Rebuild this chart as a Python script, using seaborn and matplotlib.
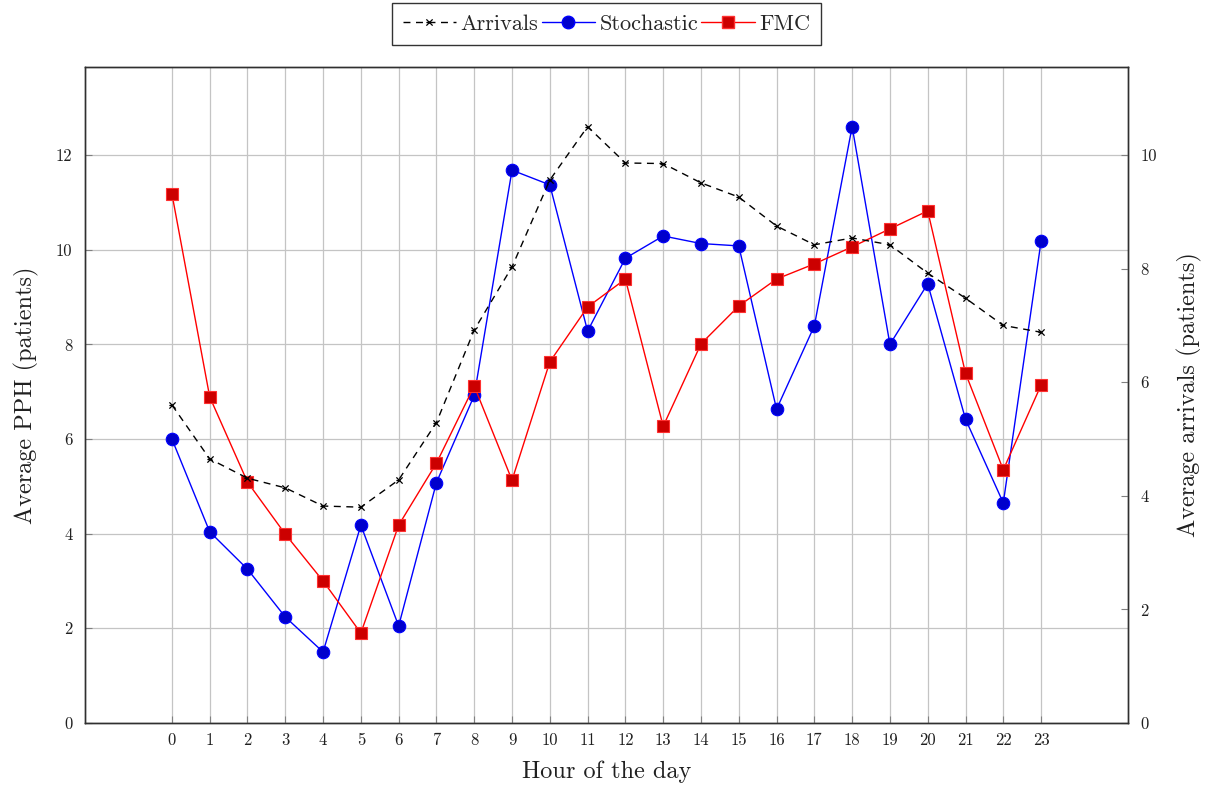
import numpy as np
import pandas as pd
import matplotlib
matplotlib.use("Agg")
import matplotlib.pyplot as plt
from matplotlib.path import Path
from matplotlib.lines import Line2D
import seaborn as sns

hours = list(range(24))
stochastic = [6.00, 4.04, 3.25, 2.24, 1.50, 4.18, 2.05, 5.08, 6.92, 11.68, 11.37, 8.28,
              9.82, 10.29, 10.13, 10.08, 6.63, 8.39, 12.60, 8.00, 9.28, 6.42, 4.65, 10.18]
fmc = [11.18, 6.89, 5.09, 3.99, 3.00, 1.90, 4.18, 5.49, 7.12, 5.13, 7.63, 8.79,
       9.38, 6.27, 8.01, 8.81, 9.38, 9.70, 10.06, 10.44, 10.82, 7.39, 5.35, 7.14]
arrivals = [5.60, 4.65, 4.31, 4.14, 3.82, 3.80, 4.28, 5.29, 6.92, 8.03, 9.56, 10.50,
            9.86, 9.85, 9.51, 9.26, 8.75, 8.42, 8.54, 8.42, 7.92, 7.48, 7.00, 6.88]
left_ticks = [0, 2, 4, 6, 8, 10, 12]
right_ticks = [0, 2, 4, 6, 8, 10]

sns.set_theme(style="white")
plt.rcParams['font.family'] = ['cmr10', 'DejaVu Serif']
plt.rcParams['axes.formatter.use_mathtext'] = True
plt.rcParams['mathtext.fontset'] = 'cm'

df = pd.DataFrame({"hour": hours, "stochastic": stochastic, "fmc": fmc, "arrivals": arrivals})

fig = plt.figure(figsize=(12.06, 7.85), dpi=100)
ax = fig.add_axes([85/1206, 1-723/785, (1128-85)/1206, (723-67)/785])
ax2 = ax.twinx()

star = Path([(-1, -1), (1, 1), (-1, 1), (1, -1), (-1, 0), (0, 0)],
            [Path.MOVETO, Path.LINETO, Path.MOVETO, Path.LINETO, Path.MOVETO, Path.LINETO])

sns.lineplot(data=df, x="hour", y="stochastic", ax=ax, color="#0000ff", lw=1,
             marker="o", markersize=9, markerfacecolor="#0000cc", markeredgecolor="#0000ff",
             markeredgewidth=0.8, zorder=3)
sns.lineplot(data=df, x="hour", y="fmc", ax=ax, color="#ff0000", lw=1,
             marker="s", markersize=8.5, markerfacecolor="#cc0000", markeredgecolor="#ff3030",
             markeredgewidth=0.8, zorder=3)
sns.lineplot(data=df, x="hour", y="arrivals", ax=ax2, color="black", lw=1,
             linestyle=(0, (5, 4)), marker=star, markersize=4.5, markeredgewidth=0.9,
             markeredgecolor="black", zorder=3)

ax.set_xlim(-2.3, 25.3)
ax.set_ylim(0, 13.86)
ax2.set_ylim(0, 11.55)
ax.set_xticks(hours)
ax.set_xticklabels([str(h) for h in hours])
ax.set_yticks(left_ticks)
ax.set_yticklabels([str(t) for t in left_ticks])
ax2.set_yticks(right_ticks)
ax2.set_yticklabels([str(t) for t in right_ticks])

ax.grid(True, color="#c4c4c4", lw=0.9)
ax.set_axisbelow(True)
ax2.grid(False)

for a in (ax, ax2):
    for s in a.spines.values():
        s.set_color("#303030")
        s.set_linewidth(1.0)
    a.tick_params(direction="in", length=5, width=0.8, color="#808080", labelsize=12,
                  labelcolor="#202020")
ax.tick_params(axis="x", pad=7)
ax.tick_params(axis="y", pad=9)
ax2.tick_params(axis="y", pad=9)
ax.tick_params(axis="both", which="both", left=True, bottom=True)
ax2.tick_params(axis="y", right=True)

ax.set_xlabel("Hour of the day", fontsize=17.5, labelpad=9, color="#202020")
ax.set_ylabel("Average PPH (patients)", fontsize=17.5, labelpad=12, color="#202020")
ax2.set_ylabel("Average arrivals (patients)", fontsize=17.5, labelpad=14, color="#202020")

handles = [
    Line2D([], [], color="black", lw=1, linestyle=(0, (5, 4)), marker=star, markersize=4.5,
           markeredgewidth=0.9),
    Line2D([], [], color="#0000ff", lw=1, marker="o", markersize=9,
           markerfacecolor="#0000cc", markeredgecolor="#0000ff"),
    Line2D([], [], color="#ff0000", lw=1, marker="s", markersize=8.5,
           markerfacecolor="#cc0000", markeredgecolor="#ff3030"),
]
if ax.get_legend():
    ax.get_legend().remove()
if ax2.get_legend():
    ax2.get_legend().remove()
leg = ax.legend(handles, ["Arrivals", "Stochastic", "FMC"], loc="lower center",
                bbox_to_anchor=(0.5, 1.034), ncol=3, fontsize=16, frameon=True,
                fancybox=False, edgecolor="black", handlelength=2.4, handletextpad=0.2,
                columnspacing=0.15, borderpad=0.5, borderaxespad=0)
leg.get_frame().set_linewidth(1.0)

fig.savefig("out.png", dpi=100)
